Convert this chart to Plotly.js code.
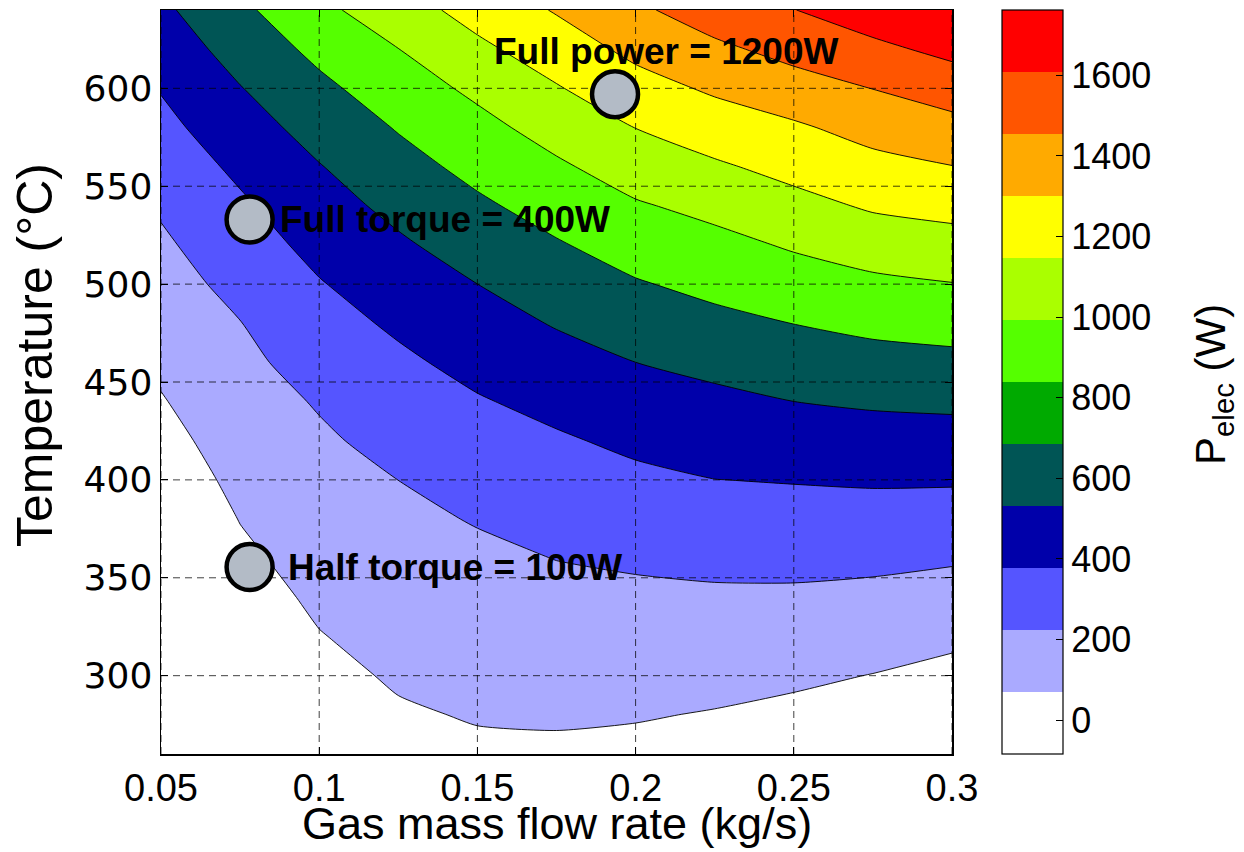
<!DOCTYPE html>
<html>
<head>
<meta charset="utf-8">
<script src="https://cdn.plot.ly/plotly-3.0.1.min.js"></script>
<style>
html,body{margin:0;padding:0;background:#fff;}
#chart{width:1244px;height:852px;}
</style>
</head>
<body>
<div id="chart"></div>
<script>
// Gas mass flow rate grid (kg/s) – columns of the power map
var flowRate = [0.05, 0.075, 0.1, 0.125, 0.15, 0.175, 0.2, 0.225, 0.25, 0.275, 0.3];
// Temperature grid (°C) – rows of the power map
var temperature = [260, 280, 300, 320, 340, 360, 380, 400, 420, 440, 460, 480, 500, 520, 540, 560, 580, 600, 620, 640];
// Electrical power P_elec (W), one row per temperature, one column per flow rate
var pElec = [
  [-84, -84, -12,   38,   60,   61,   49,   25,  -10,  -54,  -84],
  [-84, -73,  18,   69,   93,   99,   93,   76,   50,   13,  -35],
  [-84, -41,  48,   99,  126,  138,  136,  127,  109,   80,   40],
  [-84,  -8,  78,  130,  159,  176,  180,  178,  168,  148,  116],
  [-84,  24, 108,  160,  192,  215,  223,  229,  228,  215,  191],
  [-78,  56, 139,  191,  224,  254,  272,  288,  292,  285,  268],
  [-40,  88, 169,  221,  260,  303,  330,  353,  359,  360,  351],
  [ -2, 120, 199,  252,  309,  352,  388,  418,  427,  436,  435],
  [ 36, 152, 229,  298,  358,  401,  450,  485,  507,  521,  525],
  [ 74, 184, 264,  345,  407,  462,  519,  552,  587,  607,  618],
  [112, 216, 312,  391,  465,  530,  587,  628,  672,  699,  715],
  [151, 248, 361,  444,  526,  598,  664,  714,  757,  794,  815],
  [189, 296, 410,  504,  587,  669,  742,  797,  848,  890,  918],
  [227, 345, 465,  564,  658,  741,  824,  877,  940,  999, 1029],
  [270, 395, 523,  629,  728,  819,  907,  967, 1041, 1110, 1142],
  [322, 452, 580,  697,  801,  899,  999, 1069, 1140, 1210, 1255],
  [375, 516, 648,  766,  875,  987, 1093, 1175, 1236, 1316, 1375],
  [429, 581, 718,  843,  957, 1079, 1197, 1282, 1358, 1429, 1503],
  [492, 651, 796,  921, 1056, 1175, 1298, 1393, 1479, 1556, 1637],
  [555, 721, 884, 1018, 1151, 1271, 1397, 1510, 1591, 1684, 1762]
];
// contour levels (W)
var levelStart = 83.8;
var levelStep = 167.82;
var levelEnd = 1594.2;
// fill colours of the 11 contour regions (low to high)
var regionColors = ['#FFFFFF', '#AAAAFF', '#5555FF', '#0000AA', '#005555', '#55FF00', '#AAFF00', '#FFFF00', '#FFAA00', '#FF5500', '#FF0000'];
// colour bar: 12 equal bands from the map minimum to maximum
var colorbarColors = ['#FFFFFF', '#AAAAFF', '#5555FF', '#0000AA', '#005555', '#00AA00', '#55FF00', '#AAFF00', '#FFFF00', '#FFAA00', '#FF5500', '#FF0000'];
var powerMin = -84;
var powerMax = 1762;
// ticks
var xTicks = [0.05, 0.1, 0.15, 0.2, 0.25, 0.3];
var yTicks = [300, 350, 400, 450, 500, 550, 600];
var cbTicks = [0, 200, 400, 600, 800, 1000, 1200, 1400, 1600];
var xRange = [0.05, 0.3];
var yRange = [260, 640];
// operating points
var pointNames = ['Full power = 1200W', 'Full torque = 400W', 'Half torque = 100W'];
var pointFlow = [0.1935, 0.078, 0.078];
var pointTemp = [597, 533, 355.5];
// titles
var xTitle = 'Gas mass flow rate (kg/s)';
var yTitle = 'Temperature (°C)';
var cbTitle = 'P<sub>elec</sub> (W)';

var FONT = 'Liberation Sans, Arial, Helvetica, sans-serif';
var WIDE = 'DejaVu Sans, Verdana, sans-serif';

var regionScale = regionColors.map(function (c, i) { return [i / (regionColors.length - 1), c]; });
var barScale = [];
colorbarColors.forEach(function (c, i) {
  barScale.push([i / colorbarColors.length, c]);
  barScale.push([(i + 1) / colorbarColors.length, c]);
});

// dashed grid drawn above the filled contours
var gx = [], gy = [];
xTicks.forEach(function (t) { gx.push(t, t, null); gy.push(yRange[0], yRange[1], null); });
yTicks.forEach(function (t) { gx.push(xRange[0], xRange[1], null); gy.push(t, t, null); });

var traces = [
  {
    type: 'heatmap', x: flowRate, y: temperature, z: pElec,
    zmin: powerMin, zmax: powerMax, colorscale: barScale, opacity: 0,
    hoverinfo: 'skip', showscale: true,
    colorbar: {
      x: (1002 - 161) / 791, xanchor: 'left', xpad: 0,
      y: 0.5, yanchor: 'middle', len: 1, lenmode: 'fraction', ypad: 0,
      thickness: 61, thicknessmode: 'pixels',
      outlinewidth: 1.2, outlinecolor: '#000',
      tickmode: 'array', tickvals: cbTicks,
      ticks: 'inside', ticklen: 7, tickwidth: 1, tickcolor: '#000',
      tickfont: {family: FONT, size: 36, color: '#000'}
    }
  },
  {
    type: 'contour', x: flowRate, y: temperature, z: pElec,
    autocontour: false,
    contours: {start: levelStart, end: levelEnd, size: levelStep, coloring: 'fill', showlines: true},
    colorscale: regionScale, showscale: false,
    line: {color: '#000', width: 0.9, smoothing: 0.6},
    hoverinfo: 'skip'
  },
  {
    type: 'scatter', mode: 'lines', x: gx, y: gy,
    line: {color: 'rgba(0,0,0,0.75)', width: 1, dash: '7px,5px'},
    hoverinfo: 'skip', showlegend: false
  },
  {
    type: 'scatter', mode: 'markers', x: pointFlow, y: pointTemp,
    marker: {size: 46, color: '#B3BBC6', line: {color: '#000', width: 4.5}},
    hoverinfo: 'skip', showlegend: false
  }
];

var shifts = [[-123, 43], [28, 0], [36, 0]];
var annotations = pointNames.map(function (name, i) {
  return {
    x: pointFlow[i], y: pointTemp[i], xref: 'x', yref: 'y',
    text: '<b>' + name + '</b>', showarrow: false,
    xanchor: 'left', yanchor: 'middle',
    xshift: shifts[i][0], yshift: shifts[i][1],
    font: {family: FONT, size: 37, color: '#000'}
  };
});
// axis and colour-bar titles
annotations.push({
  text: xTitle, showarrow: false, xref: 'paper', yref: 'paper',
  x: 0.5, y: -(823 - 754) / 744, xanchor: 'center', yanchor: 'middle',
  font: {family: FONT, size: 45, color: '#000'}
});
annotations.push({
  text: yTitle, showarrow: false, xref: 'paper', yref: 'paper', textangle: -90,
  x: (35 - 161) / 791, y: 1 - (355 - 10) / 744, xanchor: 'center', yanchor: 'middle',
  font: {family: FONT, size: 50, color: '#000'}
});
annotations.push({
  text: cbTitle, showarrow: false, xref: 'paper', yref: 'paper', textangle: -90,
  x: (1213 - 161) / 791, y: 1 - (385 - 10) / 744, xanchor: 'center', yanchor: 'middle',
  font: {family: FONT, size: 42, color: '#000'}
});

var axisCommon = {
  showline: true, linecolor: '#000', linewidth: 1.5, mirror: 'ticks',
  ticks: 'inside', ticklen: 7, tickwidth: 1, tickcolor: '#000',
  showgrid: false, zeroline: false
};

var layout = {
  width: 1244, height: 852,
  margin: {l: 161, r: 292, t: 10, b: 98},
  paper_bgcolor: '#fff', plot_bgcolor: '#fff',
  showlegend: false,
  xaxis: Object.assign({}, axisCommon, {
    range: xRange, tickmode: 'array', tickvals: xTicks,
    tickfont: {family: FONT, size: 38, color: '#000'}
  }),
  yaxis: Object.assign({}, axisCommon, {
    range: yRange, tickmode: 'array', tickvals: yTicks,
    tickfont: {family: WIDE, size: 36, color: '#000'}
  }),
  annotations: annotations
};

Plotly.newPlot('chart', traces, layout, {staticPlot: true, displayModeBar: false});
</script>
</body>
</html>
